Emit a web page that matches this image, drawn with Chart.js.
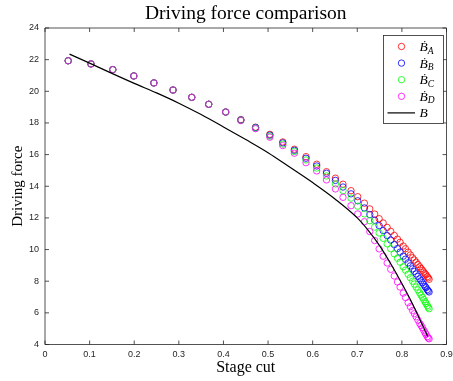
<!DOCTYPE html>
<html>
<head>
<meta charset="utf-8">
<script src="https://cdn.jsdelivr.net/npm/chart.js@4/dist/chart.umd.min.js"></script>
<style>
  body { margin: 0; background: #fff; }
  #wrap { width: 453px; height: 381px; }
</style>
</head>
<body>
<div id="wrap"><canvas id="chart"></canvas></div>
<script>
// stage cut of the four simulated cases (same for all)
const stageCut = [0.052, 0.103, 0.152, 0.199, 0.244, 0.287, 0.329, 0.367, 0.405, 0.439,
  0.472, 0.504, 0.533, 0.559, 0.585, 0.609, 0.631, 0.651, 0.668, 0.686,
  0.701, 0.716, 0.728, 0.739, 0.749, 0.758, 0.767, 0.775, 0.783, 0.790,
  0.796, 0.803, 0.808, 0.814, 0.819, 0.824, 0.828, 0.832, 0.836, 0.840,
  0.843, 0.846, 0.849, 0.852, 0.854, 0.857, 0.859, 0.861];

const forceA = [21.93, 21.73, 21.37, 20.97, 20.53, 20.08, 19.62, 19.18, 18.69, 18.21,
  17.73, 17.28, 16.80, 16.34, 15.87, 15.39, 14.92, 14.51, 14.13, 13.72,
  13.34, 12.93, 12.57, 12.24, 11.95, 11.68, 11.40, 11.15, 10.89, 10.66,
  10.46, 10.22, 10.05, 9.84, 9.66, 9.48, 9.34, 9.20, 9.05, 8.91,
  8.80, 8.69, 8.58, 8.47, 8.40, 8.29, 8.21, 8.12];

const forceB = [21.93, 21.73, 21.37, 20.97, 20.53, 20.08, 19.62, 19.18, 18.69, 18.19,
  17.71, 17.23, 16.74, 16.27, 15.77, 15.28, 14.82, 14.37, 13.95, 13.52,
  13.08, 12.63, 12.21, 11.85, 11.51, 11.20, 10.88, 10.60, 10.31, 10.06,
  9.84, 9.58, 9.39, 9.16, 8.97, 8.78, 8.62, 8.46, 8.31, 8.15,
  8.03, 7.91, 7.79, 7.67, 7.59, 7.47, 7.39, 7.32];

const forceC = [21.93, 21.73, 21.37, 20.97, 20.53, 20.08, 19.62, 19.18, 18.69, 18.17,
  17.68, 17.17, 16.66, 16.20, 15.66, 15.15, 14.65, 14.15, 13.72, 13.25,
  12.74, 12.25, 11.82, 11.42, 11.05, 10.71, 10.36, 10.05, 9.73, 9.45,
  9.20, 8.91, 8.70, 8.44, 8.22, 8.00, 7.82, 7.63, 7.45, 7.26,
  7.12, 6.98, 6.84, 6.70, 6.60, 6.46, 6.36, 6.26];

const forceD = [21.93, 21.73, 21.37, 20.97, 20.53, 20.08, 19.62, 19.18, 18.69, 18.15,
  17.64, 17.10, 16.57, 16.09, 15.49, 14.97, 14.40, 13.83, 13.30, 12.77,
  12.25, 11.76, 11.14, 10.57, 10.04, 9.58, 9.15, 8.75, 8.33, 7.95,
  7.63, 7.25, 6.97, 6.64, 6.39, 6.15, 5.95, 5.75, 5.54, 5.33,
  5.20, 5.06, 4.90, 4.75, 4.64, 4.50, 4.41, 4.36];

// reference curve B
const curveX = [0.055, 0.1, 0.15, 0.2, 0.25, 0.3, 0.35, 0.4, 0.45, 0.5, 0.55,
  0.6, 0.65, 0.7, 0.725, 0.75, 0.775, 0.8, 0.825, 0.845, 0.858];
const curveY = [22.35, 21.78, 21.13, 20.5, 19.9, 19.25, 18.53, 17.75, 16.95, 16.12, 15.18,
  14.23, 13.2, 12.0, 11.2, 10.25, 9.1, 7.85, 6.5, 5.3, 4.5];

const xTicks = [0, 0.1, 0.2, 0.3, 0.4, 0.5, 0.6, 0.7, 0.8, 0.9];
const yTicks = [4, 6, 8, 10, 12, 14, 16, 18, 20, 22, 24];

const serif = '"Liberation Serif", "DejaVu Serif", serif';
const sans = '"Liberation Sans", Arial, sans-serif';
const axisColor = '#262626';

const toPoints = (xs, ys) => xs.map((x, i) => ({ x, y: ys[i] }));

function markers(sub, color, values, order) {
    return {
        label: 'B' + sub,
        sub,
        data: toPoints(stageCut, values),
        showLine: false,
        pointStyle: 'circle',
        pointRadius: 3.2,
        pointBorderWidth: 0.8,
        borderColor: color,
        backgroundColor: 'rgba(0,0,0,0)',
        order
    };
}

// box round the plot with inward tick marks
const frame = {
    id: 'frame',
    afterDraw(chart) {
        const { ctx, chartArea: a, scales } = chart;
        const len = 4;
        ctx.save();
        ctx.strokeStyle = axisColor;
        ctx.lineWidth = 0.8;
        ctx.beginPath();
        ctx.rect(a.left, a.top, a.right - a.left, a.bottom - a.top);
        scales.x.ticks.forEach(t => {
            const px = scales.x.getPixelForValue(t.value);
            ctx.moveTo(px, a.bottom); ctx.lineTo(px, a.bottom - len);
            ctx.moveTo(px, a.top); ctx.lineTo(px, a.top + len);
        });
        scales.y.ticks.forEach(t => {
            const py = scales.y.getPixelForValue(t.value);
            ctx.moveTo(a.left, py); ctx.lineTo(a.left + len, py);
            ctx.moveTo(a.right, py); ctx.lineTo(a.right - len, py);
        });
        ctx.stroke();
        ctx.restore();
    }
};

// legend with dotted B and subscripts
const legendBox = {
    id: 'legendBox',
    afterDraw(chart) {
        const { ctx, chartArea: a } = chart;
        const w = 60, h = 88;
        const x0 = Math.round(a.right - 4 - w) + 0.5;
        const y0 = Math.round(a.top + 7) + 0.5;
        ctx.save();
        ctx.fillStyle = '#fff';
        ctx.fillRect(x0, y0, w, h);
        ctx.strokeStyle = axisColor;
        ctx.lineWidth = 0.8;
        ctx.strokeRect(x0, y0, w, h);

        const sets = chart.data.datasets.slice().sort((p, q) => q.order - p.order);
        sets.forEach((ds, i) => {
            const ry = y0 + 11 + i * 16.6;
            if (ds.showLine) {
                ctx.strokeStyle = ds.borderColor;
                ctx.lineWidth = 1.2;
                ctx.beginPath();
                ctx.moveTo(x0 + 4, ry); ctx.lineTo(x0 + 31.5, ry);
                ctx.stroke();
                ctx.fillStyle = '#000';
                ctx.font = 'italic 13.5px ' + serif;
                ctx.textBaseline = 'alphabetic';
                ctx.fillText('B', x0 + 36, ry + 4.5);
            } else {
                ctx.strokeStyle = ds.borderColor;
                ctx.lineWidth = 0.8;
                ctx.beginPath();
                ctx.arc(x0 + 18, ry, 3.2, 0, Math.PI * 2);
                ctx.stroke();
                ctx.fillStyle = '#000';
                ctx.font = 'italic 13.5px ' + serif;
                ctx.textBaseline = 'alphabetic';
                ctx.fillText('\u1E02', x0 + 36, ry + 4.5);
                const bw = ctx.measureText('\u1E02').width;
                ctx.font = 'italic 9.5px ' + serif;
                ctx.fillText(ds.sub, x0 + 36 + bw, ry + 7);
            }
        });
        ctx.restore();
    }
};

new Chart(document.getElementById('chart'), {
    type: 'scatter',
    data: {
        datasets: [
            markers('A', '#ff0000', forceA, 5),
            markers('B', '#0000ff', forceB, 4),
            markers('C', '#00ff00', forceC, 3),
            markers('D', '#ff00ff', forceD, 2),
            {
                label: 'B',
                data: toPoints(curveX, curveY),
                showLine: true,
                borderColor: '#000',
                borderWidth: 1.2,
                pointRadius: 0,
                cubicInterpolationMode: 'monotone',
                order: 1
            }
        ]
    },
    options: {
        responsive: true,
        maintainAspectRatio: false,
        animation: false,
        devicePixelRatio: 1,
        layout: { padding: { top: 0, right: 6.5, bottom: 0, left: 0 } },
        plugins: {
            legend: { display: false },
            tooltip: { enabled: false },
            title: {
                display: true,
                text: 'Driving force comparison',
                color: '#000',
                fullSize: false,
                font: { family: serif, size: 19.5, weight: 'normal' },
                padding: { top: 2.6, bottom: 2 }
            }
        },
        scales: {
            x: {
                type: 'linear',
                min: 0,
                max: 0.9,
                afterBuildTicks: s => { s.ticks = xTicks.map(v => ({ value: v })); },
                afterFit: s => { s.height = 36.5; s.paddingLeft = 0; s.paddingRight = 0; },
                grid: { display: false, drawTicks: false },
                border: { display: false },
                ticks: { color: axisColor, padding: 5, font: { family: sans, size: 9 } },
                title: {
                    display: true,
                    text: 'Stage cut',
                    color: '#000',
                    font: { family: serif, size: 16 },
                    padding: { top: 0, bottom: 3.5 }
                }
            },
            y: {
                type: 'linear',
                min: 4,
                max: 24,
                afterBuildTicks: s => { s.ticks = yTicks.map(v => ({ value: v })); },
                afterFit: s => { s.width = 45; s.paddingTop = 0; s.paddingBottom = 0; },
                grid: { display: false, drawTicks: false },
                border: { display: false },
                ticks: { color: axisColor, padding: 6, font: { family: sans, size: 9 } },
                title: {
                    display: true,
                    text: 'Driving force',
                    color: '#000',
                    font: { family: serif, size: 15 },
                    padding: { top: 9, bottom: 0 }
                }
            }
        }
    },
    plugins: [frame, legendBox]
});
</script>
</body>
</html>
